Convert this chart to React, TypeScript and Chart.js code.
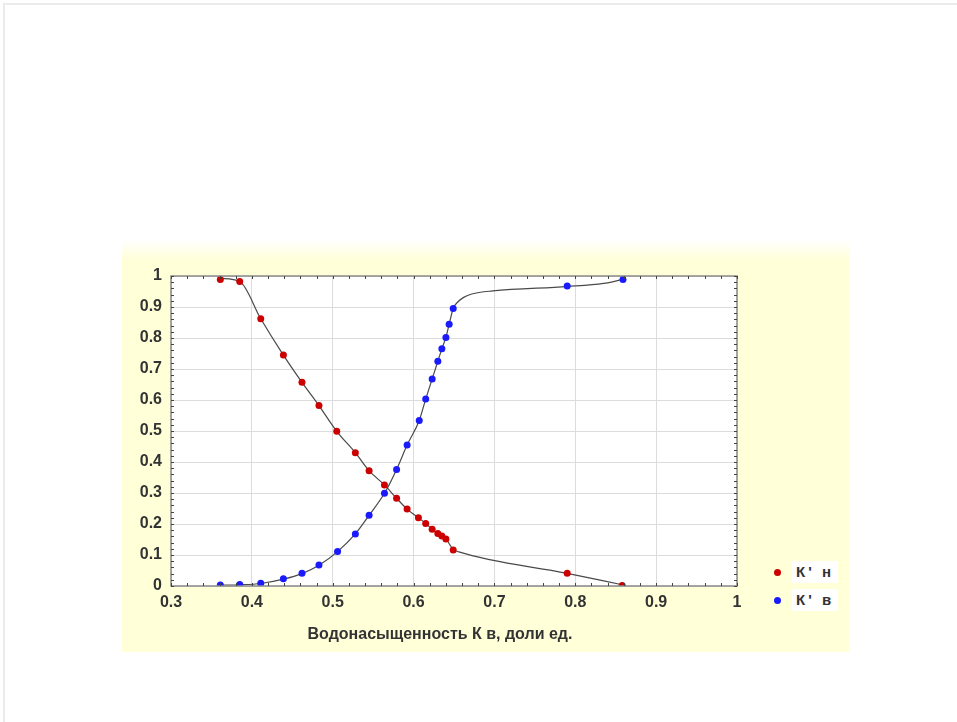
import React, { useEffect, useRef } from "react";
import { Chart, registerables } from "chart.js";

Chart.register(...registerables);

// K'н (oil relative permeability) measured points
const knX = [0.361, 0.385, 0.411, 0.439, 0.462, 0.483, 0.505, 0.528, 0.545, 0.564, 0.579, 0.592, 0.606, 0.615, 0.623, 0.63, 0.635, 0.64, 0.649, 0.79, 0.858];
const knY = [0.989, 0.982, 0.862, 0.745, 0.657, 0.582, 0.499, 0.43, 0.372, 0.326, 0.283, 0.248, 0.22, 0.202, 0.183, 0.169, 0.161, 0.152, 0.116, 0.041, 0.002];

// K'в (water relative permeability) measured points
const kvX = [0.361, 0.385, 0.411, 0.439, 0.462, 0.483, 0.506, 0.528, 0.545, 0.564, 0.579, 0.592, 0.607, 0.615, 0.623, 0.63, 0.635, 0.64, 0.644, 0.649, 0.79, 0.859];
const kvY = [0.003, 0.005, 0.009, 0.023, 0.041, 0.068, 0.111, 0.168, 0.228, 0.299, 0.376, 0.455, 0.534, 0.603, 0.668, 0.725, 0.765, 0.802, 0.844, 0.895, 0.968, 0.989];

// fitted curves (grey lines)
const knCurveX = [0.361, 0.385, 0.411, 0.439, 0.462, 0.483, 0.505, 0.528, 0.545, 0.564, 0.579, 0.592, 0.606, 0.615, 0.623, 0.63, 0.635, 0.64, 0.649, 0.656, 0.79, 0.858];
const knCurveY = [0.992, 0.982, 0.862, 0.745, 0.657, 0.582, 0.499, 0.43, 0.372, 0.326, 0.283, 0.248, 0.22, 0.202, 0.183, 0.169, 0.161, 0.152, 0.118, 0.11, 0.041, 0.004];
const kvCurveX = [0.361, 0.385, 0.411, 0.439, 0.462, 0.483, 0.506, 0.528, 0.545, 0.564, 0.579, 0.592, 0.607, 0.615, 0.623, 0.63, 0.635, 0.64, 0.644, 0.649, 0.655, 0.662, 0.672, 0.698, 0.79, 0.835, 0.859];
const kvCurveY = [0.003, 0.004, 0.008, 0.022, 0.04, 0.067, 0.111, 0.168, 0.228, 0.299, 0.376, 0.455, 0.534, 0.603, 0.668, 0.725, 0.765, 0.802, 0.844, 0.895, 0.917, 0.931, 0.942, 0.952, 0.966, 0.976, 0.989];

const xAxisTitle = "Водонасыщенность К в, доли ед.";
const legendLabels = ["К' н", "К' в"];
const seriesColors = ["#cc0000", "#1a1aff"];

const xMin = 0.3;
const xMax = 1;
const yMin = 0;
const yMax = 1;

const toPts = (xs: number[], ys: number[]) => xs.map((x, i) => ({ x, y: ys[i] }));

const framePlugin = {
  id: "frame",
  beforeDraw(chart: any) {
    const { ctx, chartArea: a } = chart;
    ctx.save();
    ctx.fillStyle = "#ffffff";
    ctx.fillRect(a.left, a.top, a.right - a.left, a.bottom - a.top);
    ctx.restore();
  },
  afterDatasetsDraw(chart: any) {
    const { ctx, chartArea: a, scales } = chart;
    ctx.save();
    ctx.strokeStyle = "#8a8a8a";
    ctx.lineWidth = 1.5;
    ctx.strokeRect(a.left, a.top, a.right - a.left, a.bottom - a.top);
    ctx.strokeStyle = "#444";
    ctx.lineWidth = 1;
    ctx.beginPath();
    for (let v = 0; v <= 35; v++) {
      const px = Math.round(scales.x.getPixelForValue(xMin + v * 0.02)) + 0.5;
      ctx.moveTo(px, a.bottom);
      ctx.lineTo(px, a.bottom - 3);
      ctx.moveTo(px, a.top);
      ctx.lineTo(px, a.top + 3);
    }
    for (let v = 0; v <= 50; v++) {
      const py = Math.round(scales.y.getPixelForValue(v * 0.02)) + 0.5;
      ctx.moveTo(a.left, py);
      ctx.lineTo(a.left + 3, py);
      ctx.moveTo(a.right, py);
      ctx.lineTo(a.right - 3, py);
    }
    ctx.stroke();
    ctx.restore();
  },
};

function ChartCanvas() {
  const ref = useRef<HTMLCanvasElement | null>(null);
  useEffect(() => {
    if (!ref.current) return;
    const tickFont = { family: "'Liberation Sans', Arial, sans-serif", size: 16, weight: "bold" as const };
    const chart = new Chart(ref.current, {
      type: "scatter",
      data: {
        datasets: [
          {
            label: legendLabels[0],
            data: toPts(knX, knY),
            backgroundColor: seriesColors[0],
            borderColor: seriesColors[0],
            pointRadius: 3.5,
            pointBorderWidth: 0,
            order: 1,
          },
          {
            label: legendLabels[1],
            data: toPts(kvX, kvY),
            backgroundColor: seriesColors[1],
            borderColor: seriesColors[1],
            pointRadius: 3.5,
            pointBorderWidth: 0,
            order: 1,
          },
          {
            label: "fit1",
            data: toPts(knCurveX, knCurveY),
            showLine: true,
            borderColor: "#4a4a4a",
            borderWidth: 1.2,
            pointRadius: 0,
            cubicInterpolationMode: "monotone",
            order: 2,
          },
          {
            label: "fit2",
            data: toPts(kvCurveX, kvCurveY),
            showLine: true,
            borderColor: "#4a4a4a",
            borderWidth: 1.2,
            pointRadius: 0,
            cubicInterpolationMode: "monotone",
            order: 2,
          },
        ],
      },
      options: {
        animation: false,
        responsive: false,
        maintainAspectRatio: false,
        events: [],
        layout: { padding: { left: 100, right: 220, top: 276, bottom: 70 } },
        plugins: { legend: { display: false }, tooltip: { enabled: false }, title: { display: false } },
        scales: {
          x: {
            type: "linear",
            min: xMin,
            max: xMax,
            afterFit(scale: any) {
              scale.height = 66;
            },
            ticks: {
              stepSize: 0.1,
              padding: 7,
              color: "#333",
              font: tickFont,
              maxRotation: 0,
              callback: (v: any) => String(Math.round(Number(v) * 10) / 10),
            },
            grid: { color: "#dcdcdc", drawTicks: false, lineWidth: 1 },
            border: { display: false },
          },
          y: {
            type: "linear",
            min: yMin,
            max: yMax,
            afterFit(scale: any) {
              scale.width = 71;
            },
            ticks: {
              stepSize: 0.1,
              padding: 9,
              color: "#333",
              font: tickFont,
              callback: (v: any) => String(Math.round(Number(v) * 10) / 10),
            },
            grid: { color: "#dcdcdc", drawTicks: false, lineWidth: 1 },
            border: { display: false },
          },
        },
      },
      plugins: [framePlugin],
    });
    return () => chart.destroy();
  }, []);
  return <canvas ref={ref} width={957} height={722} style={{ position: "absolute", left: 0, top: 0, width: 957, height: 722 }} />;
}

export default function App() {
  const textFont = "'Liberation Sans', Arial, sans-serif";
  return (
    <div style={{ position: "absolute", left: 0, top: 0, width: 957, height: 722, background: "#fff", overflow: "hidden" }}>
      <div style={{ position: "absolute", left: 3, top: 3, width: 960, height: 730, borderLeft: "2px solid #ebebeb", borderTop: "2px solid #ebebeb" }} />
      <div
        style={{
          position: "absolute",
          left: 122,
          top: 240,
          width: 727,
          height: 20,
          background: "linear-gradient(to bottom, rgba(255,255,214,0), #ffffd8)",
        }}
      />
      <div style={{ position: "absolute", left: 122, top: 260, width: 727, height: 392, background: "#ffffd8" }} />
      <ChartCanvas />
      <div
        style={{
          position: "absolute",
          left: 240,
          width: 400,
          top: 624,
          textAlign: "center",
          fontFamily: textFont,
          fontWeight: "bold",
          fontSize: 16,
          color: "#333",
          lineHeight: "20px",
        }}
      >
        {xAxisTitle}
      </div>
      {legendLabels.map((lbl, i) => (
        <div key={lbl} style={{ position: "absolute", left: 774, top: 561 + i * 28, height: 22, display: "flex", alignItems: "center" }}>
          <span style={{ width: 7, height: 7, borderRadius: "50%", background: seriesColors[i], display: "inline-block" }} />
          <span
            style={{
              marginLeft: 11,
              background: "#fff",
              padding: "2px 4px",
              fontFamily: textFont,
              fontWeight: "bold",
              fontSize: 15,
              letterSpacing: 3,
              color: "#333",
              lineHeight: "18px",
            }}
          >
            {lbl}
          </span>
        </div>
      ))}
    </div>
  );
}
